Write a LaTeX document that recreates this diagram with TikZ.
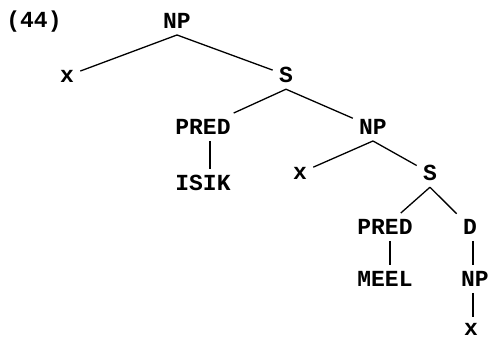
\documentclass[tikz,border=0pt]{standalone}
\usepackage{fontspec}
\setmonofont{Liberation Mono}
\begin{document}
\begin{tikzpicture}[x=0.5pt,y=-0.5pt,
  lab/.style={font=\ttfamily\bfseries\fontsize{11.5}{12}\selectfont, inner sep=3pt},
  br/.style={line width=0.65pt}]
\useasboundingbox (0,0) rectangle (489,339);
\node[lab] (num) at (34,22) {(44)};
\node[lab] (np1) at (177,21) {NP};
\node[lab] (x1) at (67,76) {x};
\node[lab] (s1) at (286,75) {S};
\node[lab] (pred1) at (203,127) {PRED};
\node[lab] (np2) at (373,127) {NP};
\node[lab] (isik) at (203,183) {ISIK};
\node[lab] (x2) at (300,173) {x};
\node[lab] (s2) at (430,173) {S};
\node[lab] (pred2) at (385,227) {PRED};
\node[lab] (d) at (470,227) {D};
\node[lab] (meel) at (385,279) {MEEL};
\node[lab] (np3) at (475,279) {NP};
\node[lab] (x3) at (471,329) {x};
\draw[br] (np1.south) -- (x1);
\draw[br] (np1.south) -- (s1);
\draw[br] (s1.south) -- (pred1);
\draw[br] (s1.south) -- (np2);
\draw[br] ([xshift=3.5pt]pred1.south) -- ([xshift=3.5pt]isik.north);
\draw[br] (np2.south) -- (x2);
\draw[br] (np2.south) -- (s2);
\draw[br] (s2.south) -- (pred2);
\draw[br] (s2.south) -- (d);
\draw[br] ([xshift=2.5pt]pred2.south) -- ([xshift=2.5pt]meel.north);
\draw[br] ([xshift=1.5pt]d.south) -- ([xshift=-1pt]np3.north);
\draw[br] ([xshift=-1pt]np3.south) -- ([xshift=1pt]x3.north);
\end{tikzpicture}
\end{document}
